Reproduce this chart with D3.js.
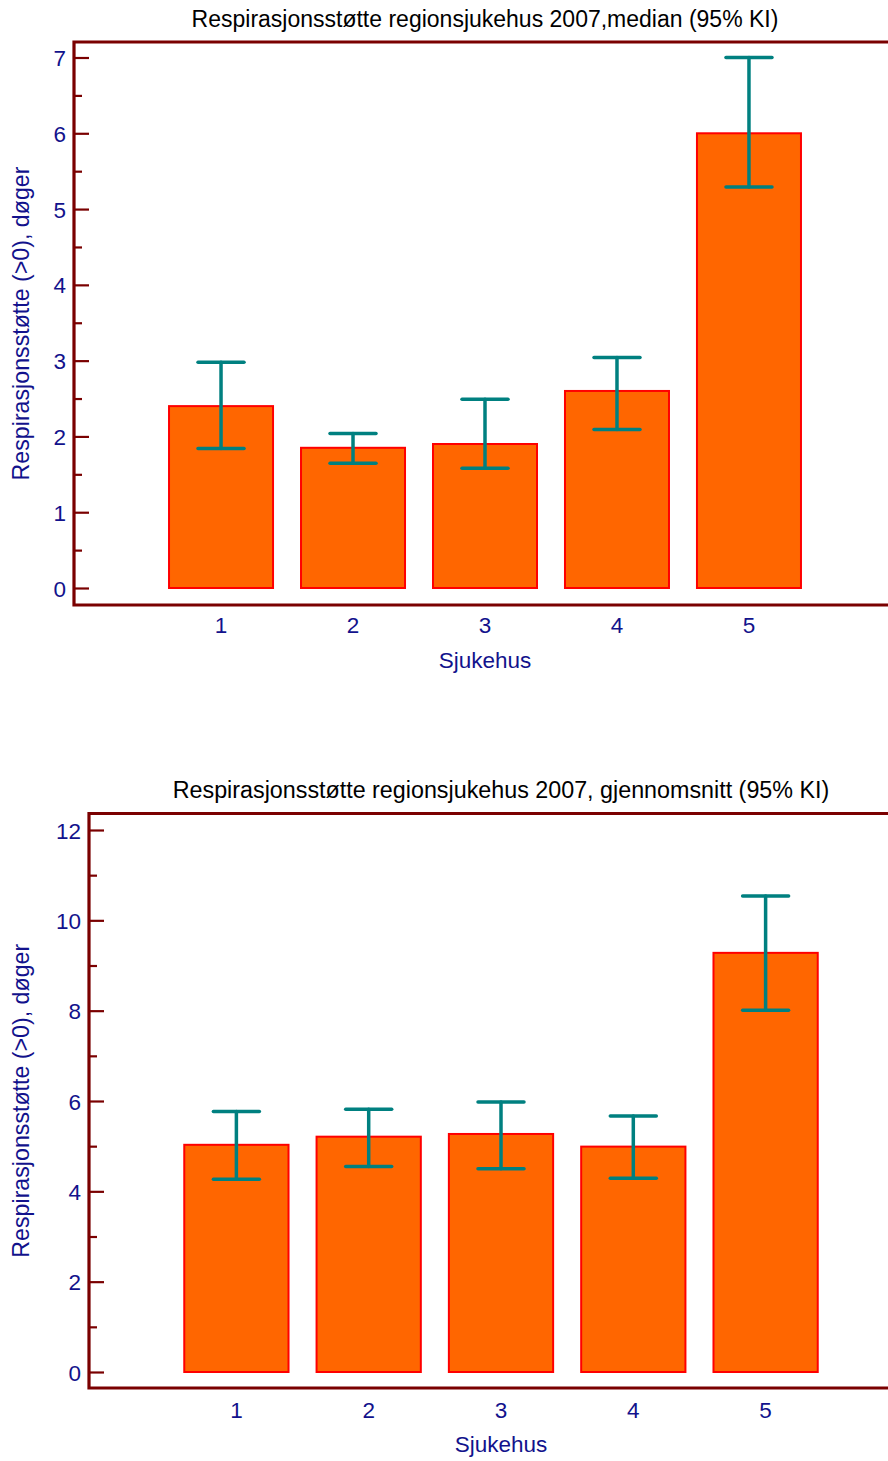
<!DOCTYPE html>
<html>
<head>
<meta charset="utf-8">
<script src="https://cdn.jsdelivr.net/npm/d3@7"></script>
<style>
  html, body { margin: 0; padding: 0; background: #ffffff; }
  svg { display: block; font-family: "Liberation Sans", Arial, sans-serif; }
</style>
</head>
<body>
<svg id="chart" width="888" height="1461"></svg>
<script>
// Hospitals on the x axis
const sykehus = ["1", "2", "3", "4", "5"];

// Median days of respiratory support (>0), with 95% CI
const medianVerdi = [2.4, 1.85, 1.9, 2.6, 6.0];
const medianNedre = [1.84, 1.645, 1.58, 2.09, 5.29];
const medianOvre  = [2.98, 2.04, 2.49, 3.04, 7.0];

// Mean days of respiratory support (>0), with 95% CI
const snittVerdi = [5.03, 5.21, 5.27, 4.99, 9.28];
const snittNedre = [4.27, 4.55, 4.50, 4.29, 8.01];
const snittOvre  = [5.77, 5.82, 5.98, 5.67, 10.54];

// Axis tick values
const medianMajor = [0, 1, 2, 3, 4, 5, 6, 7];
const medianMinor = [0.5, 1.5, 2.5, 3.5, 4.5, 5.5, 6.5];
const snittMajor = [0, 2, 4, 6, 8, 10, 12];
const snittMinor = [1, 3, 5, 7, 9, 11];

const titles = [
  "Respirasjonsstøtte regionsjukehus 2007,median (95% KI)",
  "Respirasjonsstøtte regionsjukehus 2007, gjennomsnitt (95% KI)"
];
const yTitle = "Respirasjonsstøtte (>0), døger";
const xTitle = "Sjukehus";

const AXIS = "#7a0000";
const LABEL = "#12128c";
const BAR_FILL = "#ff6600";
const BAR_EDGE = "#ff0000";
const ERR = "#008080";

const svg = d3.select("#chart");

function panel(cfg) {
  const g = svg.append("g");
  const x = d3.scaleBand()
    .domain(sykehus)
    .range([cfg.left, cfg.right])
    .paddingInner(0.212)
    .paddingOuter(0.72);
  const y = d3.scaleLinear()
    .domain([0, cfg.maxTick])
    .range([cfg.zeroY, cfg.topTickY]);

  // Title
  g.append("text")
    .attr("x", (cfg.left + cfg.right) / 2)
    .attr("y", cfg.titleY)
    .attr("text-anchor", "middle")
    .attr("font-size", cfg.titleSize)
    .attr("fill", "#000")
    .text(cfg.title);

  // Bars
  const data = sykehus.map((k, i) => ({ k, v: cfg.val[i], lo: cfg.lo[i], hi: cfg.hi[i] }));
  g.selectAll("rect.bar").data(data).join("rect")
    .attr("class", "bar")
    .attr("x", d => x(d.k))
    .attr("width", x.bandwidth())
    .attr("y", d => y(d.v))
    .attr("height", d => y(0) - y(d.v))
    .attr("fill", BAR_FILL)
    .attr("stroke", BAR_EDGE)
    .attr("stroke-width", 2);

  // Confidence intervals
  const cap = 23;
  const eb = g.selectAll("g.err").data(data).join("g").attr("class", "err")
    .attr("stroke", ERR).attr("stroke-width", 3.5).attr("stroke-linecap", "round");
  eb.append("line")
    .attr("x1", d => x(d.k) + x.bandwidth() / 2).attr("x2", d => x(d.k) + x.bandwidth() / 2)
    .attr("y1", d => y(d.lo)).attr("y2", d => y(d.hi));
  eb.append("line")
    .attr("x1", d => x(d.k) + x.bandwidth() / 2 - cap).attr("x2", d => x(d.k) + x.bandwidth() / 2 + cap)
    .attr("y1", d => y(d.hi)).attr("y2", d => y(d.hi));
  eb.append("line")
    .attr("x1", d => x(d.k) + x.bandwidth() / 2 - cap).attr("x2", d => x(d.k) + x.bandwidth() / 2 + cap)
    .attr("y1", d => y(d.lo)).attr("y2", d => y(d.lo));

  // Y axis: major ticks with labels, minor ticks without
  const yAxis = g.append("g").attr("transform", `translate(${cfg.left},0)`)
    .call(d3.axisLeft(y).tickValues(cfg.major).tickSize(-15).tickPadding(8).tickFormat(d3.format("d")));
  yAxis.select(".domain").remove();
  yAxis.selectAll(".tick line").attr("stroke", AXIS).attr("stroke-width", 2.2);
  yAxis.selectAll(".tick text").attr("fill", LABEL).attr("font-size", 22.5)
    .attr("font-family", "Liberation Sans, Arial, sans-serif").attr("dy", "0.36em");

  const yMinor = g.append("g").attr("transform", `translate(${cfg.left},0)`)
    .call(d3.axisLeft(y).tickValues(cfg.minor).tickSize(-8).tickFormat(""));
  yMinor.select(".domain").remove();
  yMinor.selectAll(".tick line").attr("stroke", AXIS).attr("stroke-width", 2.2);

  // X axis labels
  const xAxis = g.append("g").attr("transform", `translate(0,${cfg.bottom})`)
    .call(d3.axisBottom(x).tickSize(0).tickPadding(0));
  xAxis.select(".domain").remove();
  xAxis.selectAll(".tick text").attr("fill", LABEL).attr("font-size", 22.5)
    .attr("font-family", "Liberation Sans, Arial, sans-serif")
    .attr("y", cfg.xTickOffset).attr("dy", 0);

  // Frame (left, top and bottom edges; right edge lies past the page)
  g.append("path")
    .attr("d", `M${cfg.right},${cfg.top}H${cfg.left}V${cfg.bottom}H${cfg.right}`)
    .attr("fill", "none")
    .attr("stroke", AXIS)
    .attr("stroke-width", 3.2);

  // Axis titles
  g.append("text")
    .attr("x", (cfg.left + cfg.right) / 2)
    .attr("y", cfg.bottom + cfg.xTitleOffset)
    .attr("text-anchor", "middle")
    .attr("font-size", 22.5)
    .attr("fill", LABEL)
    .text(xTitle);

  g.append("text")
    .attr("transform", `translate(29,${(cfg.top + cfg.bottom) / 2}) rotate(-90)`)
    .attr("text-anchor", "middle")
    .attr("font-size", 23.2)
    .attr("fill", LABEL)
    .text(yTitle);
}

panel({
  title: titles[0], titleY: 27, titleSize: 23,
  left: 74, right: 896, top: 42, bottom: 605,
  zeroY: 588, topTickY: 57.5, maxTick: 7,
  major: medianMajor, minor: medianMinor,
  val: medianVerdi, lo: medianNedre, hi: medianOvre,
  xTickOffset: 28, xTitleOffset: 63
});

panel({
  title: titles[1], titleY: 798, titleSize: 23.3,
  left: 89, right: 913, top: 813.5, bottom: 1388,
  zeroY: 1372, topTickY: 830, maxTick: 12,
  major: snittMajor, minor: snittMinor,
  val: snittVerdi, lo: snittNedre, hi: snittOvre,
  xTickOffset: 30, xTitleOffset: 64
});
</script>
</body>
</html>
